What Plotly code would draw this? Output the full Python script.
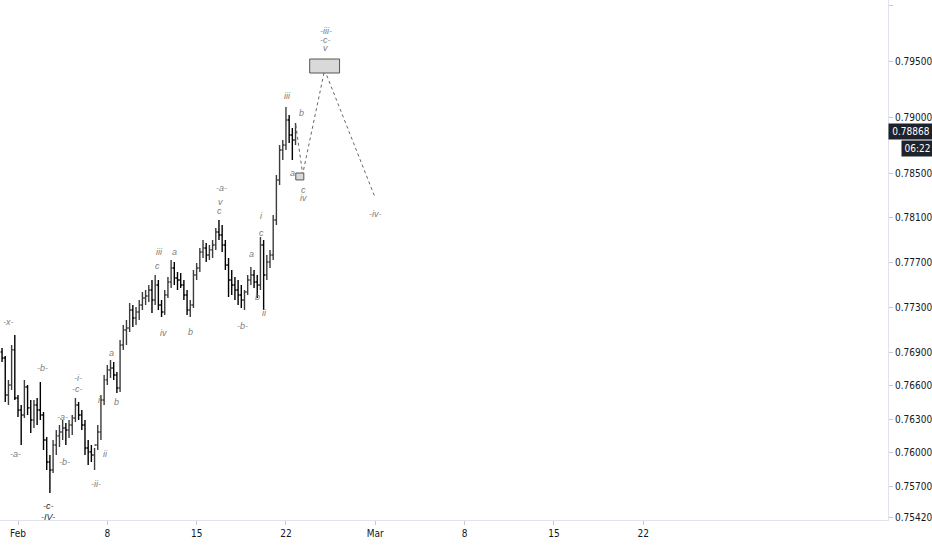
import pandas as pd
import plotly.graph_objects as go

# ---------------- data ----------------
open_ = [0.76902, 0.76848, 0.76518, 0.76607, 0.76920, 0.76491, 0.76384, 0.76339, 0.76589, 0.76402,
         0.76294, 0.76428, 0.76384, 0.76339, 0.76116, 0.75919, 0.75848, 0.76071, 0.76152, 0.76187,
         0.76223, 0.76205, 0.76250, 0.76312, 0.76428, 0.76339, 0.76250, 0.76044, 0.76009, 0.75982,
         0.76071, 0.76187, 0.76473, 0.76652, 0.76741, 0.76759, 0.76696, 0.76580, 0.76964, 0.77098,
         0.77116, 0.77277, 0.77205, 0.77259, 0.77321, 0.77384, 0.77402, 0.77455, 0.77366, 0.77500,
         0.77321, 0.77259, 0.77411, 0.77527, 0.77652, 0.77562, 0.77545, 0.77500, 0.77411, 0.77277,
         0.77321, 0.77589, 0.77652, 0.77795, 0.77830, 0.77768, 0.77813, 0.77857, 0.77973, 0.77946,
         0.77857, 0.77679, 0.77545, 0.77500, 0.77455, 0.77411, 0.77366, 0.77437, 0.77545, 0.77589,
         0.77527, 0.77500, 0.77857, 0.77589, 0.77705, 0.77768, 0.78080, 0.78438, 0.78706, 0.78750,
         0.78973, 0.78839, 0.78795]
high = [0.76937, 0.76866, 0.76652, 0.76964, 0.77053, 0.76518, 0.76428, 0.76652, 0.76607, 0.76473,
        0.76473, 0.76491, 0.76634, 0.76366, 0.76143, 0.75982, 0.76116, 0.76205, 0.76250, 0.76294,
        0.76268, 0.76294, 0.76339, 0.76491, 0.76455, 0.76384, 0.76294, 0.76116, 0.76071, 0.76044,
        0.76250, 0.76518, 0.76696, 0.76786, 0.76830, 0.76812, 0.76723, 0.77009, 0.77143, 0.77187,
        0.77339, 0.77321, 0.77304, 0.77366, 0.77437, 0.77455, 0.77500, 0.77545, 0.77589, 0.77545,
        0.77366, 0.77455, 0.77571, 0.77723, 0.77705, 0.77616, 0.77607, 0.77545, 0.77455, 0.77366,
        0.77634, 0.77696, 0.77830, 0.77902, 0.77875, 0.77857, 0.77902, 0.78009, 0.78080, 0.78036,
        0.77902, 0.77741, 0.77634, 0.77571, 0.77545, 0.77500, 0.77455, 0.77589, 0.77661, 0.77634,
        0.77589, 0.77929, 0.77902, 0.77768, 0.77813, 0.78125, 0.78482, 0.78750, 0.78795, 0.79090,
        0.79018, 0.78902, 0.78947]
low = [0.76812, 0.76455, 0.76428, 0.76562, 0.76473, 0.76321, 0.76071, 0.76312, 0.76339, 0.76178,
       0.76223, 0.76250, 0.76294, 0.76027, 0.75848, 0.75643, 0.75821, 0.75982, 0.76053, 0.76116,
       0.76071, 0.76134, 0.76160, 0.76277, 0.76294, 0.76205, 0.75982, 0.75893, 0.75919, 0.75848,
       0.76027, 0.76116, 0.76428, 0.76607, 0.76670, 0.76652, 0.76536, 0.76544, 0.76920, 0.76964,
       0.77080, 0.77125, 0.77143, 0.77187, 0.77277, 0.77321, 0.77348, 0.77250, 0.77321, 0.77277,
       0.77214, 0.77232, 0.77384, 0.77473, 0.77500, 0.77455, 0.77473, 0.77366, 0.77232, 0.77214,
       0.77295, 0.77545, 0.77616, 0.77741, 0.77705, 0.77723, 0.77741, 0.77813, 0.77902, 0.77795,
       0.77634, 0.77393, 0.77411, 0.77366, 0.77321, 0.77295, 0.77277, 0.77411, 0.77500, 0.77473,
       0.77384, 0.77455, 0.77277, 0.77545, 0.77652, 0.77723, 0.78036, 0.78393, 0.78616, 0.78706,
       0.78768, 0.78616, 0.78750]
close = [0.76848, 0.76518, 0.76607, 0.76920, 0.76491, 0.76384, 0.76339, 0.76589, 0.76402, 0.76294,
         0.76428, 0.76384, 0.76339, 0.76116, 0.75919, 0.75848, 0.76071, 0.76152, 0.76187, 0.76223,
         0.76205, 0.76250, 0.76312, 0.76428, 0.76339, 0.76250, 0.76044, 0.76009, 0.75982, 0.76071,
         0.76187, 0.76473, 0.76652, 0.76741, 0.76759, 0.76696, 0.76580, 0.76964, 0.77098, 0.77116,
         0.77277, 0.77205, 0.77259, 0.77321, 0.77384, 0.77402, 0.77455, 0.77366, 0.77500, 0.77321,
         0.77259, 0.77411, 0.77527, 0.77652, 0.77562, 0.77545, 0.77500, 0.77411, 0.77277, 0.77321,
         0.77589, 0.77652, 0.77795, 0.77830, 0.77768, 0.77813, 0.77857, 0.77973, 0.77946, 0.77857,
         0.77679, 0.77545, 0.77500, 0.77455, 0.77411, 0.77366, 0.77437, 0.77545, 0.77589, 0.77527,
         0.77500, 0.77857, 0.77589, 0.77705, 0.77768, 0.78080, 0.78438, 0.78706, 0.78750, 0.78973,
         0.78839, 0.78795, 0.78868]
bar_start = "2021-01-30 18:00"
bar_freq = "6h"

tick_dates = ["2021-02-01", "2021-02-08", "2021-02-15", "2021-02-22",
              "2021-03-01", "2021-03-08", "2021-03-15", "2021-03-22"]
tick_text = ["Feb", "8", "15", "22", "Mar", "8", "15", "22"]
price_ticks = [0.80000, 0.79500, 0.79000, 0.78500, 0.78100, 0.77700, 0.77300,
               0.76900, 0.76600, 0.76300, 0.76000, 0.75700, 0.75420]
last_price = 0.78868
countdown = "06:22"
countdown_price = 0.78723

# projected path (days after Feb 1, price)
proj_days = [21.77, 22.31, 24.03, 28.00]
proj_prices = [0.78929, 0.78490, 0.79420, 0.78277]

# target boxes: (day0, day1, price0, price1)
target_boxes = [(22.86, 25.20, 0.79393, 0.79518),
                (21.77, 22.40, 0.78438, 0.78500)]

# wave labels: (text, day after Feb 1, price, dark)
wave_labels = [
    ("-x-", -0.74, 0.77170, False), ("-a-", -0.19, 0.75991, False),
    ("-b-", 1.91, 0.76759, False), ("-c-", 2.38, 0.75526, True),
    ("-IV-", 2.38, 0.75428, True), ("-a-", 3.47, 0.76321, False),
    ("-b-", 3.62, 0.75919, False), ("-i-", 4.71, 0.76670, False),
    ("-c-", 4.63, 0.76571, False), ("-ii-", 6.11, 0.75723, False),
    ("ii", 6.89, 0.75991, False), ("i", 6.35, 0.76473, False),
    ("a", 7.36, 0.76893, False), ("b", 7.75, 0.76455, False),
    ("iii", 11.10, 0.77795, False), ("c", 10.94, 0.77670, False),
    ("iv", 11.41, 0.77071, False), ("a", 12.27, 0.77795, False),
    ("b", 13.51, 0.77080, False), ("-a-", 15.93, 0.78366, False),
    ("v", 15.85, 0.78241, False), ("c", 15.77, 0.78161, False),
    ("-b-", 17.56, 0.77134, False), ("a", 18.26, 0.77777, False),
    ("b", 18.80, 0.77393, False), ("c", 19.12, 0.77964, False),
    ("i", 19.12, 0.78116, False), ("ii", 19.28, 0.77250, False),
    ("iii", 21.14, 0.79188, False), ("b", 22.23, 0.79036, False),
    ("a", 21.53, 0.78500, False), ("c", 22.39, 0.78348, False),
    ("iv", 22.39, 0.78277, False), ("-iii-", 24.10, 0.79768, False),
    ("-c-", 24.10, 0.79688, False), ("v", 24.10, 0.79616, False),
    ("-iv-", 28.00, 0.78134, False),
]

# ---------------- figure ----------------
base = pd.Timestamp("2021-02-01")
def day(d):
    return base + pd.Timedelta(days=d)

times = pd.date_range(bar_start, periods=len(close), freq=bar_freq)
AX_FONT = "DejaVu Sans Condensed, Liberation Sans Narrow, Roboto, sans-serif"

fig = go.Figure()
fig.add_trace(go.Ohlc(
    x=times, open=open_, high=high, low=low, close=close,
    increasing=dict(line=dict(color="#3c3c3c", width=1.4)),
    decreasing=dict(line=dict(color="#000000", width=1.4)),
    tickwidth=0.45, hoverinfo="skip", showlegend=False,
))
fig.add_trace(go.Scatter(
    x=[day(d) for d in proj_days], y=proj_prices, mode="lines",
    line=dict(color="#666666", width=1, dash="dot"),
    hoverinfo="skip", showlegend=False,
))

for d0, d1, p0, p1 in target_boxes:
    fig.add_shape(type="rect", x0=day(d0), x1=day(d1), y0=p0, y1=p1,
                  xref="x", yref="y", fillcolor="#d9d9d9",
                  line=dict(color="#555555", width=1), layer="above")

annotations = []
for text, d, p, dark in wave_labels:
    annotations.append(dict(
        x=day(d), y=p, xref="x", yref="y", text=f"<i>{text}</i>", showarrow=False,
        font=dict(family="Liberation Sans, Arial, sans-serif", size=9,
                  color="#2a2a2a" if dark else "#7d7d7d"),
        xanchor="center", yanchor="middle"))

annotations.append(dict(
    x=1, y=last_price, xref="paper", yref="y", text=f"{last_price:.5f}",
    showarrow=False, xanchor="left", yanchor="middle", bgcolor="#1e222d",
    font=dict(family=AX_FONT, size=10, color="#ffffff"), borderpad=2, width=40))
annotations.append(dict(
    x=1, y=countdown_price, xref="paper", yref="y", text=countdown, xshift=13,
    showarrow=False, xanchor="left", yanchor="middle", bgcolor="#1e222d",
    font=dict(family=AX_FONT, size=10, color="#ffffff"), borderpad=2, width=27))

px_per_day = 12.76
feb1_px = 18.0
plot_w = 888
x_range = [day(-feb1_px / px_per_day), day((plot_w - feb1_px) / px_per_day)]

fig.update_layout(
    width=932, height=550,
    margin=dict(l=0, r=44, t=0, b=30),
    paper_bgcolor="#ffffff", plot_bgcolor="#ffffff",
    showlegend=False, annotations=annotations,
    xaxis=dict(
        type="date", range=x_range, tickvals=[pd.Timestamp(t) for t in tick_dates],
        ticktext=tick_text, ticks="outside", ticklen=4, tickcolor="#c8cad0",
        showline=True, linecolor="#e0e3eb", linewidth=1, showgrid=False,
        zeroline=False, rangeslider=dict(visible=False),
        tickfont=dict(family=AX_FONT, size=10, color="#131722"), fixedrange=True,
    ),
    yaxis=dict(
        side="right", range=[0.75401, 0.80045], tickvals=price_ticks,
        ticktext=[f"{v:.5f}" for v in price_ticks], ticks="outside", ticklen=4,
        tickcolor="#c8cad0", showline=True, linecolor="#e0e3eb", linewidth=1,
        showgrid=False, zeroline=False,
        tickfont=dict(family=AX_FONT, size=10, color="#131722"), fixedrange=True,
    ),
)

fig.write_html("out.html", config={"displayModeBar": False},
               post_script="document.body.style.margin='0';document.body.style.overflow='hidden';")
